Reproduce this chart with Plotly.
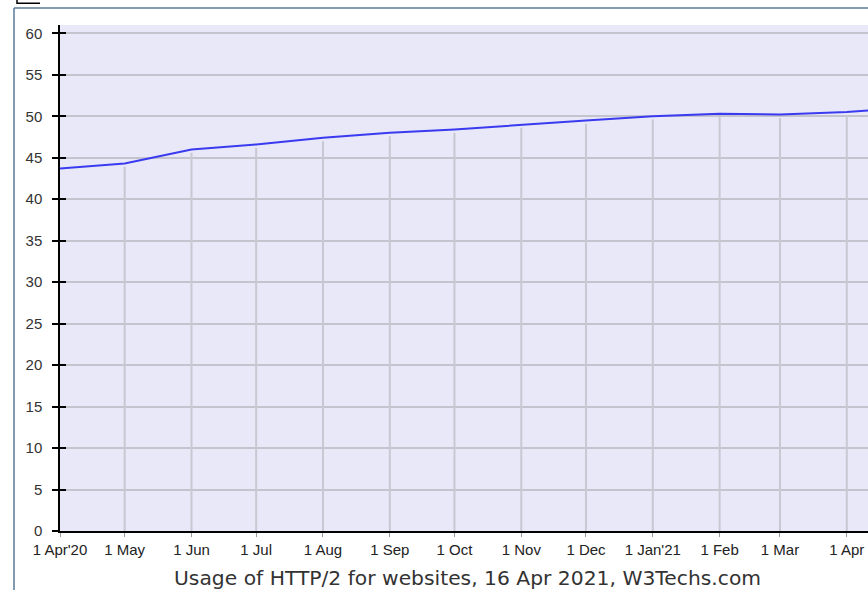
import plotly.graph_objects as go

dates = ["2020-04-01", "2020-05-01", "2020-06-01", "2020-07-01", "2020-08-01",
         "2020-09-01", "2020-10-01", "2020-11-01", "2020-12-01", "2021-01-01",
         "2021-02-01", "2021-03-01", "2021-04-01", "2021-04-16"]
usage = [43.7, 44.3, 46.0, 46.6, 47.4, 48.0, 48.4, 49.0, 49.5, 50.0, 50.3, 50.2, 50.5, 50.8]

tick_dates = dates[:13]
tick_labels = ["1 Apr'20", "1 May", "1 Jun", "1 Jul", "1 Aug", "1 Sep", "1 Oct",
               "1 Nov", "1 Dec", "1 Jan'21", "1 Feb", "1 Mar", "1 Apr"]
y_ticks = [0, 5, 10, 15, 20, 25, 30, 35, 40, 45, 50, 55, 60]
title_text = "Usage of HTTP/2 for websites, 16 Apr 2021, W3Techs.com"

W, H = 868, 590
L, R, T, B = 60, 0, 25, 59
pw, ph = W - L - R, H - T - B

def px(x):
    return (x - L) / pw

def py(y):
    return (H - B - y) / ph

# vertical grid segments from 0 up to the line at each month start
gx, gy = [], []
for d, v in zip(dates[1:13], usage[1:13]):
    gx += [d, d, None]
    gy += [0, v - 0.4, None]

fig = go.Figure()
fig.add_trace(go.Scatter(x=gx, y=gy, mode="lines",
                         line=dict(color="#c8c8d2", width=2),
                         hoverinfo="skip", showlegend=False, yaxis="y"))
fig.add_trace(go.Scatter(x=dates, y=usage, mode="lines",
                         line=dict(color="#3a3af0", width=2),
                         showlegend=False, yaxis="y2"))

fig.update_layout(
    width=W, height=H,
    margin=dict(l=L, r=R, t=T, b=B),
    paper_bgcolor="white",
    plot_bgcolor="#e8e8f8",
    font=dict(family="Liberation Sans, Arial", color="#222"),
    xaxis=dict(
        type="date",
        range=["2020-04-01", "2021-04-10T20:00"],
        tickvals=tick_dates, ticktext=tick_labels,
        tickfont=dict(size=15, color="#222"),
        ticks="outside", ticklen=4, tickcolor="#999", tickwidth=1,
        ticklabelstandoff=0,
        showgrid=False, zeroline=False,
        showline=True, linecolor="black", linewidth=1.5,
    ),
    yaxis=dict(
        range=[0, 61],
        tickvals=y_ticks,
        tickfont=dict(size=15, color="#333"),
        ticks="outside", ticklen=6, tickcolor="black", tickwidth=1.5,
        ticklabelstandoff=7,
        showgrid=True, gridcolor="#c4c4ce", gridwidth=1.5,
        zeroline=False,
        showline=True, linecolor="black", linewidth=1.5,
    ),
    yaxis2=dict(
        range=[0, 61], overlaying="y", side="left",
        tickvals=y_ticks, showticklabels=False,
        ticks="inside", ticklen=6, tickcolor="black", tickwidth=1.5,
        showgrid=False, zeroline=False, showline=False,
    ),
    annotations=[dict(
        text=title_text, xref="paper", yref="paper",
        x=px(467), y=py(578), xanchor="center", yanchor="middle",
        showarrow=False,
        font=dict(family="DejaVu Sans, Verdana", size=20.3, color="#333"),
    )],
    shapes=[
        dict(type="line", xref="paper", yref="paper",
             x0=px(14), x1=px(14), y0=py(8), y1=py(H),
             line=dict(color="#5a7898", width=1.5)),
        dict(type="line", xref="paper", yref="paper",
             x0=px(14), x1=px(W), y0=py(8), y1=py(8),
             line=dict(color="#5a7898", width=1.5)),
        dict(type="path", xref="paper", yref="paper",
             path=f"M {px(17)} {py(0)} L {px(17)} {py(3.3)} L {px(40)} {py(3.3)}",
             line=dict(color="black", width=1.5)),
    ],
)

fig.write_html("out.html",
               config={"displayModeBar": False},
               post_script="document.body.style.margin='0';document.body.style.overflow='hidden';")
